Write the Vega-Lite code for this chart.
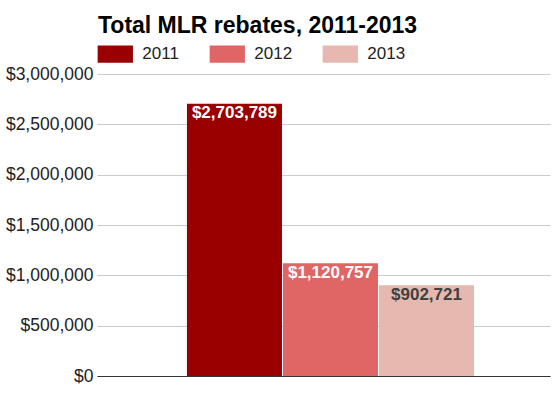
{
  "$schema": "https://vega.github.io/schema/vega-lite/v6.json",
  "width": 453,
  "height": 302,
  "autosize": {"type": "none"},
  "padding": {"left": 97, "top": 74, "right": 3, "bottom": 23},
  "background": "white",
  "config": {
    "font": "Liberation Sans",
    "view": {"stroke": null}
  },
  "title": {
    "text": "Total MLR rebates, 2011-2013",
    "anchor": "start",
    "frame": "group",
    "fontSize": 23,
    "fontWeight": "bold",
    "color": "#000000",
    "baseline": "alphabetic",
    "offset": -20,
    "dx": 1
  },
  "data": {
    "values": [
      {"group": "Total", "year": "2011", "value": 2703789},
      {"group": "Total", "year": "2012", "value": 1120757},
      {"group": "Total", "year": "2013", "value": 902721}
    ]
  },
  "encoding": {
    "x": {
      "field": "group",
      "type": "nominal",
      "scale": {"paddingInner": 0, "paddingOuter": 0.289, "align": 0.542},
      "axis": {
        "title": null,
        "labels": false,
        "ticks": false,
        "domain": true,
        "domainColor": "#333333",
        "domainWidth": 1,
        "grid": false
      }
    },
    "xOffset": {
      "field": "year",
      "type": "nominal",
      "scale": {"paddingInner": 0.01, "paddingOuter": 0}
    },
    "y": {
      "field": "value",
      "type": "quantitative",
      "scale": {"domain": [0, 3000000], "nice": false},
      "axis": {
        "title": null,
        "values": [0, 500000, 1000000, 1500000, 2000000, 2500000, 3000000],
        "format": "$,d",
        "labelFontSize": 17.5,
        "labelColor": "#222222",
        "labelPadding": 4,
        "ticks": false,
        "domain": false,
        "grid": true,
        "gridColor": "#cccccc",
        "gridWidth": 1
      }
    }
  },
  "layer": [
    {
      "mark": {"type": "bar"},
      "encoding": {
        "color": {
          "field": "year",
          "type": "nominal",
          "scale": {"domain": ["2011", "2012", "2013"], "range": ["#990000", "#e06666", "#e6b8af"]},
          "legend": {
            "title": null,
            "orient": "none",
            "direction": "horizontal",
            "legendX": 0.3,
            "legendY": -38,
            "padding": 0,
            "symbolType": "M-1,-0.49H1V0.49H-1Z",
            "symbolSize": 1246,
            "symbolStrokeWidth": 0,
            "symbolOpacity": 1,
            "labelFontSize": 17,
            "labelColor": "#222222",
            "labelOffset": 9,
            "columnPadding": 30
          }
        }
      }
    },
    {
      "mark": {"type": "text", "baseline": "top", "dy": 1.5, "fontSize": 17, "fontWeight": "bold"},
      "encoding": {
        "text": {"field": "value", "type": "quantitative", "format": "$,d"},
        "color": {
          "condition": {"test": "datum.year === '2013'", "value": "#404040"},
          "value": "#ffffff"
        }
      }
    }
  ]
}
